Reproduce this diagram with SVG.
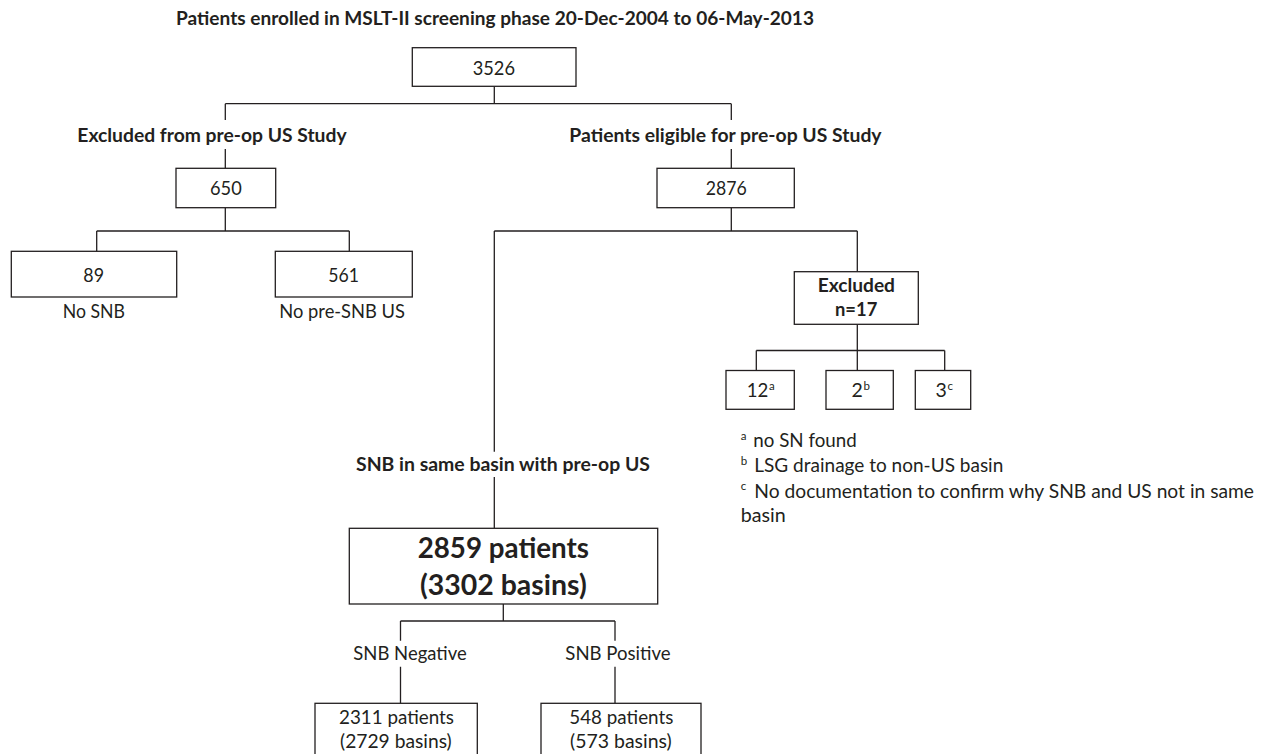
<svg xmlns="http://www.w3.org/2000/svg" width="1261" height="754" viewBox="0 0 1261 754">
<style>
  text { font-family: Lato, "Liberation Sans", sans-serif; fill: #231f20; }
  .r { font-size: 19.5px; }
  .b { font-size: 19.5px; font-weight: bold; }
  .big { font-size: 29px; font-weight: bold; }
  .sup { font-size: 11.5px; }
  .box { fill: #ffffff; stroke: #231f20; stroke-width: 1.3; }
  .ln { fill: none; stroke: #231f20; stroke-width: 1.3; }
</style>
<rect width="1261" height="754" fill="#ffffff"/>

<text id="title" class="b" x="176" y="25" textLength="638" lengthAdjust="spacingAndGlyphs">Patients enrolled in MSLT-II screening phase 20-Dec-2004 to 06-May-2013</text>

<g id="connectors">
  <path class="ln" d="M494.3,86.3 V103.7 M225.3,103.7 H731.3 M225.3,103.7 V120 M731.3,103.7 V120"/>
  <path class="ln" d="M225.3,149 V168.3 M731.3,149 V168.3"/>
  <path class="ln" d="M225.3,207.7 V231 M96.7,231 H349.3 M96.7,231 V251.3 M349.3,231 V251.3"/>
  <path class="ln" d="M731.3,207.7 V231 M494.3,231 H857.3 M494.3,231 V451.7 M857.3,231 V271.7"/>
  <path class="ln" d="M857.3,324.3 V350.5 M756.3,350.5 H944.7 M756.3,350.5 V370.5 M857.3,350.5 V370.5 M944.7,350.5 V370.5"/>
  <path class="ln" d="M494.3,477 V528.3"/>
  <path class="ln" d="M503.3,604 V621 M400.5,621 H615 M400.5,621 V640.7 M615,621 V640.7"/>
  <path class="ln" d="M400.5,666.7 V703.3 M615,666.7 V703.3"/>
</g>

<g id="n3526">
  <rect class="box" x="412.3" y="47.7" width="163.7" height="38.6"/>
  <text class="r" x="472.7" y="75" textLength="42.3" lengthAdjust="spacingAndGlyphs">3526</text>
</g>

<g id="lbl-excluded">
  <text class="b" x="77.3" y="141.5" textLength="269.3" lengthAdjust="spacingAndGlyphs">Excluded from pre-op US Study</text>
</g>
<g id="lbl-eligible">
  <text class="b" x="569.3" y="141.5" textLength="312.3" lengthAdjust="spacingAndGlyphs">Patients eligible for pre-op US Study</text>
</g>

<g id="n650">
  <rect class="box" x="176" y="168.3" width="99.7" height="39.4"/>
  <text class="r" x="210" y="195" textLength="31.7" lengthAdjust="spacingAndGlyphs">650</text>
</g>

<g id="n2876">
  <rect class="box" x="657" y="168.3" width="137.3" height="39.4"/>
  <text class="r" x="705.7" y="194.5" textLength="41" lengthAdjust="spacingAndGlyphs">2876</text>
</g>

<g id="n89">
  <rect class="box" x="11.3" y="251.3" width="165.4" height="45.7"/>
  <text class="r" x="83.3" y="282" textLength="20.7" lengthAdjust="spacingAndGlyphs">89</text>
  <text class="r" x="62.7" y="318.3" textLength="62.3" lengthAdjust="spacingAndGlyphs">No SNB</text>
</g>

<g id="n561">
  <rect class="box" x="275.3" y="251.3" width="137" height="45.7"/>
  <text class="r" x="328.3" y="282" textLength="30.7" lengthAdjust="spacingAndGlyphs">561</text>
  <text class="r" x="279.3" y="318.3" textLength="125.7" lengthAdjust="spacingAndGlyphs">No pre-SNB US</text>
</g>

<g id="nExcluded">
  <rect class="box" x="794.3" y="271.7" width="124" height="52.6"/>
  <text class="b" x="817.7" y="292.3" textLength="77.3" lengthAdjust="spacingAndGlyphs">Excluded</text>
  <text class="b" x="835" y="316" textLength="42.3" lengthAdjust="spacingAndGlyphs">n=17</text>
</g>

<g id="n12">
  <rect class="box" x="726" y="370.5" width="68.3" height="38.8"/>
  <text class="r" x="746.7" y="397.3"><tspan textLength="21.6" lengthAdjust="spacingAndGlyphs">12</tspan><tspan class="sup" dx="0.7" dy="-7.5">a</tspan></text>
</g>
<g id="n2">
  <rect class="box" x="826" y="370.5" width="67.3" height="38.8"/>
  <text class="r" x="851.5" y="397.3">2<tspan class="sup" dx="0.7" dy="-7.5">b</tspan></text>
</g>
<g id="n3">
  <rect class="box" x="915.3" y="370.5" width="55.4" height="38.8"/>
  <text class="r" x="935.5" y="397.3">3<tspan class="sup" dx="0.7" dy="-7.5">c</tspan></text>
</g>

<g id="footnotes">
  <text class="r" x="740.7" y="447"><tspan class="sup" dy="-7.5">a</tspan><tspan x="753.3" dy="7.5" textLength="103.4" lengthAdjust="spacingAndGlyphs">no SN found</tspan></text>
  <text class="r" x="740.7" y="472"><tspan class="sup" dy="-7.5">b</tspan><tspan x="754.3" dy="7.5" textLength="249" lengthAdjust="spacingAndGlyphs">LSG drainage to non-US basin</tspan></text>
  <text class="r" x="740.7" y="497.5"><tspan class="sup" dy="-7.5">c</tspan><tspan x="754.3" dy="7.5" textLength="499.7" lengthAdjust="spacingAndGlyphs">No documentation to confirm why SNB and US not in same</tspan></text>
  <text class="r" x="740.7" y="522" textLength="45" lengthAdjust="spacingAndGlyphs">basin</text>
</g>

<g id="lbl-same-basin">
  <text class="b" x="356" y="471" textLength="294" lengthAdjust="spacingAndGlyphs">SNB in same basin with pre-op US</text>
</g>

<g id="n2859">
  <rect class="box" x="349.3" y="528.3" width="308.4" height="75.7"/>
  <text class="big" x="417.7" y="558" textLength="171.3" lengthAdjust="spacingAndGlyphs">2859 patients</text>
  <text class="big" x="420" y="595" textLength="166.7" lengthAdjust="spacingAndGlyphs">(3302 basins)</text>
</g>

<g id="lbl-neg">
  <text class="r" x="353.3" y="660" textLength="113.4" lengthAdjust="spacingAndGlyphs">SNB Negative</text>
</g>
<g id="lbl-pos">
  <text class="r" x="565.3" y="660" textLength="105.4" lengthAdjust="spacingAndGlyphs">SNB Positive</text>
</g>

<g id="n2311">
  <rect class="box" x="315" y="703.3" width="162.3" height="60"/>
  <text class="r" x="339" y="724.3" textLength="115" lengthAdjust="spacingAndGlyphs">2311 patients</text>
  <text class="r" x="340" y="748.3" textLength="111.7" lengthAdjust="spacingAndGlyphs">(2729 basins)</text>
</g>

<g id="n548">
  <rect class="box" x="541" y="703.3" width="160" height="60"/>
  <text class="r" x="569.3" y="724.3" textLength="104" lengthAdjust="spacingAndGlyphs">548 patients</text>
  <text class="r" x="570" y="748.3" textLength="101.7" lengthAdjust="spacingAndGlyphs">(573 basins)</text>
</g>
</svg>
